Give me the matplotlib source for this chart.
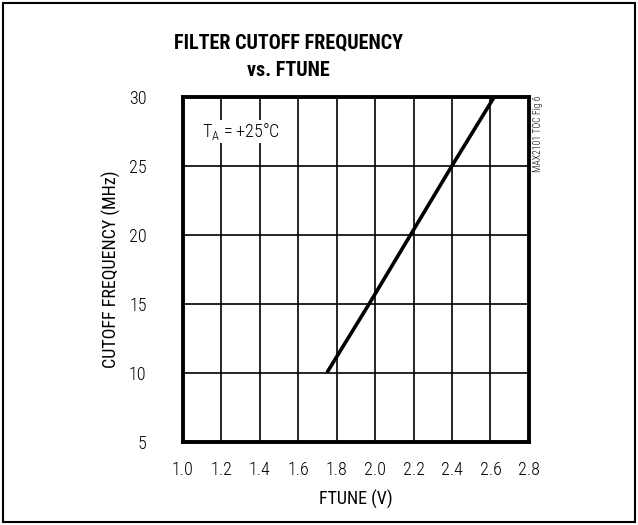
import matplotlib
matplotlib.use('Agg')
import matplotlib.pyplot as plt
from matplotlib.patches import Rectangle

plt.rcParams['font.family'] = ['Liberation Sans Narrow', 'Roboto Condensed', 'DejaVu Sans Condensed',
                               'Liberation Sans', 'DejaVu Sans']
plt.rcParams['font.weight'] = 'light'

# data
ftune = [1.75, 1.97, 2.185, 2.40, 2.62]
cutoff = [10, 15, 20, 25, 30]
xticks = [1.0, 1.2, 1.4, 1.6, 1.8, 2.0, 2.2, 2.4, 2.6, 2.8]
yticks = [5, 10, 15, 20, 25, 30]

fig = plt.figure(figsize=(6.38, 5.25), dpi=100)
ax = fig.add_axes([0.2864, 0.159, 0.5426, 0.6565])

ax.plot(ftune, cutoff, color='black', lw=2.6, solid_capstyle='butt')

ax.set_xlim(1.0, 2.8)
ax.set_ylim(5, 30)
ax.set_xticks(xticks)
ax.set_yticks(yticks)
ax.set_xticklabels(['%.1f' % v for v in xticks])
ax.grid(True, color='black', lw=1.2)
ax.tick_params(length=0, labelsize=13)
ax.tick_params(axis='x', pad=14)
ax.tick_params(axis='y', pad=26)
for s in ax.spines.values():
    s.set_linewidth(2.8)

ax.set_xlabel('FTUNE (V)', fontsize=13, labelpad=8)
ax.set_ylabel('CUTOFF FREQUENCY (MHz)', fontsize=13, labelpad=6)

ax.text(0.055, 0.93, r'T$_\mathregular{A}$ = +25°C', transform=ax.transAxes,
        fontsize=13, va='top', ha='left',
        bbox=dict(facecolor='white', edgecolor='none', pad=1))

fig.text(288 / 638, 1 - 43 / 525, 'FILTER CUTOFF FREQUENCY', ha='center', va='center',
         fontsize=14.5, fontweight='bold')
fig.text(288 / 638, 1 - 70 / 525, 'vs. FTUNE', ha='center', va='center',
         fontsize=14.5, fontweight='bold')

fig.text(538 / 638, 1 - 95 / 525, 'MAX2101 TOC Fig 6', rotation=90, ha='center', va='top',
         fontsize=7)

fig.patches.append(Rectangle((0.005, 0.005), 0.99, 0.99, transform=fig.transFigure,
                             fill=False, edgecolor='black', lw=1.5))

fig.savefig('out.png', dpi=100)
